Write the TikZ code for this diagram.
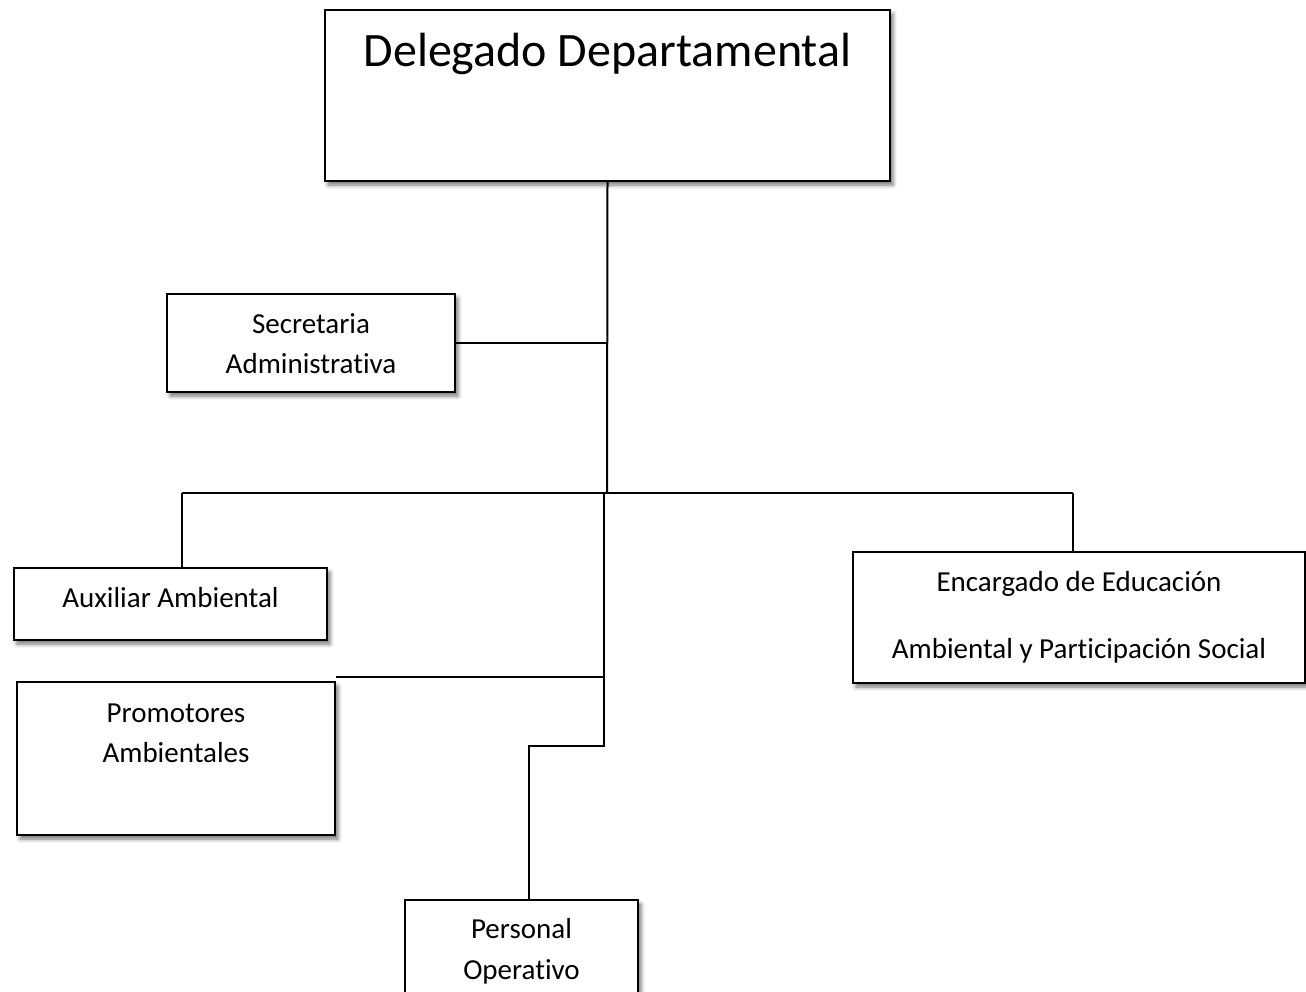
\documentclass[tikz,border=0pt]{standalone}
\usepackage{fontspec}
\setmainfont[Ligatures={NoCommon}]{Carlito}
\usetikzlibrary{shadows.blur}
\tikzset{
  box/.style={draw=black, line width=2.2pt, fill=white, rectangle, inner sep=0pt,
    blur shadow={shadow xshift=3pt, shadow yshift=-4pt, shadow blur radius=4pt, shadow opacity=55}},
  txt/.style={anchor=base, inner sep=0pt, font=\fontsize{29}{35}\selectfont},
  bigtxt/.style={anchor=base, inner sep=0pt, font=\fontsize{48}{58}\selectfont},
  conn/.style={draw=black, line width=2pt}
}
\begin{document}
\begin{tikzpicture}[x=1pt,y=-1pt]
\clip (0,0) rectangle (1306,991);
\useasboundingbox (0,0) rectangle (1306,991);
% boxes
\node[box, minimum width=565pt, minimum height=171pt] (del) at (607.5,95.5) {};
\node[box, minimum width=288pt, minimum height=98pt] (sec) at (311,343) {};
\node[box, minimum width=313pt, minimum height=72pt] (aux) at (170.5,604) {};
\node[box, minimum width=318pt, minimum height=153pt] (pro) at (176,758.5) {};
\node[box, minimum width=452pt, minimum height=131pt] (enc) at (1079,617.5) {};
\node[box, minimum width=233pt, minimum height=120pt] (per) at (521.5,960) {};
% texts
\node[bigtxt] (delT) at (607.5,66) {Delegado Departamental};
\node[txt] (secT1) at (311,333) {Secretaria};
\node[txt] (secT2) at (311,373) {Administrativa};
\node[txt] (auxT) at (170.5,607) {Auxiliar Ambiental};
\node[txt] (proT1) at (176,722) {Promotores};
\node[txt] (proT2) at (176,762) {Ambientales};
\node[txt] (encT1) at (1079,591) {Encargado de Educación};
\node[txt] (encT2) at (1079,658) {Ambiental y Participación Social};
\node[txt] (perT1) at (521.5,938) {Personal};
\node[txt] (perT2) at (521.5,979) {Operativo};
% junction coordinates
\coordinate (bus) at (607,493);
\coordinate (busL) at (182,493);
\coordinate (busR) at (1073,493);
\coordinate (low) at (604,493);
\coordinate (proJ) at (604,677);
\coordinate (stepA) at (604,746);
\coordinate (stepB) at (529,746);
% connectors
\draw[conn] (del.south) -- (bus);
\draw[conn] (sec.east) -- (sec.east -| del.south);
\draw[conn] (busL) -- (busR);
\draw[conn] (busL) -- (busL |- aux.north);
\draw[conn] (busR) -- (busR |- enc.north);
\draw[conn] (low) -- (stepA) -- (stepB) -- (stepB |- per.north);
\draw[conn] (proJ) -- (proJ -| pro.east);
\end{tikzpicture}
\end{document}
